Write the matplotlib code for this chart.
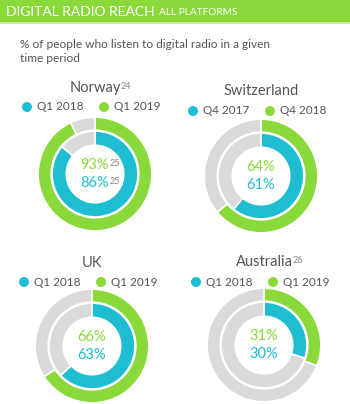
import matplotlib
matplotlib.use("Agg")
import matplotlib.pyplot as plt
from matplotlib.patches import Rectangle, Ellipse

W, H = 350, 404
DPI = 100

GREEN = "#8ad93a"
CYAN = "#1ebdd2"
GRAY = "#dadada"
TEXT = "#555555"
FONT = ["Lato", "DejaVu Sans"]

# data
countries = ["Norway", "Switzerland", "UK", "Australia"]
title_sups = ["24", "", "", "26"]
inner_labels = [["Q1 2018", "Q1 2019"], ["Q4 2017", "Q4 2018"],
                ["Q1 2018", "Q1 2019"], ["Q1 2018", "Q1 2019"]]
older_values = [86, 61, 63, 30]   # inner ring (cyan)
newer_values = [93, 64, 66, 31]   # outer ring (green)
value_sups = ["25", "", "", ""]

fig = plt.figure(figsize=(W / DPI, H / DPI), dpi=DPI)
fig.patch.set_facecolor("white")


def fx(x):
    return x / W


def fy(y):
    return 1 - y / H


# header
fig.patches.append(Rectangle((0, fy(22)), 1, 22 / H, transform=fig.transFigure,
                             facecolor=GREEN, edgecolor="none"))
fig.patches.append(Rectangle((0, fy(24)), 1, 2 / H, transform=fig.transFigure,
                             facecolor="#c9eea3", edgecolor="none"))
t = fig.text(fx(6), fy(11.5), "DIGITAL RADIO REACH", color="white", fontsize=10,
             family=FONT, va="center", ha="left")
fig.canvas.draw()
bb = t.get_window_extent()
fig.text(bb.x1 / W + fx(4), fy(12.5), "ALL PLATFORMS", color="white", fontsize=7.3,
         family=FONT, va="center", ha="left")

fig.text(fx(20), fy(45), "% of people who listen to digital radio in a given",
         color=TEXT, fontsize=8.6, family=FONT, va="center", ha="left")
fig.text(fx(20), fy(58), "time period", color=TEXT, fontsize=8.6, family=FONT,
         va="center", ha="left")

centers = [(95, 174), (261, 176), (92, 346), (264, 345)]
title_y = [88, 91, 263, 262]
legend_y = [107, 111, 282, 282]
R = 58


def sup_text(x, y, main, sup, color, size, supsize, ha="center"):
    tt = fig.text(fx(x), fy(y), main, color=color, fontsize=size, family=FONT,
                  ha=ha, va="center")
    if sup:
        fig.canvas.draw()
        b = tt.get_window_extent()
        fig.text(b.x1 / W + 0.001, b.y1 / H - 0.002, sup, color="#888888",
                 fontsize=supsize, family=FONT, ha="left", va="top")


for i, name in enumerate(countries):
    cx, cy = centers[i]
    # title
    sup_text(cx, title_y[i], name, title_sups[i], TEXT, 10.5, 6.5)
    # legend
    for j, (lab, col) in enumerate(zip(inner_labels[i], [CYAN, GREEN])):
        dx = cx - 68 + j * 77
        fig.patches.append(Ellipse((fx(dx), fy(legend_y[i])),
                           10 / W, 10 / H, transform=fig.transFigure,
                           facecolor=col, edgecolor="none"))
        fig.text(fx(dx + 10), fy(legend_y[i]), lab, color=TEXT, fontsize=8.5,
                 family=FONT, ha="left", va="center")
    # donut
    ax = fig.add_axes([fx(cx - R), fy(cy + R), 2 * R / W, 2 * R / H])
    ax.axis("off")
    nv = newer_values[i]
    ov = older_values[i]
    ax.pie([nv, 100 - nv], colors=[GREEN, GRAY], radius=1.0, startangle=90,
           counterclock=False,
           wedgeprops=dict(width=0.23, edgecolor="white", linewidth=1.2))
    ax.pie([ov, 100 - ov], colors=[CYAN, GRAY], radius=0.755, startangle=90,
           counterclock=False,
           wedgeprops=dict(width=0.25, edgecolor="white", linewidth=1.2))
    ax.set_aspect("equal")
    ax.set_xlim(-1.02, 1.02)
    ax.set_ylim(-1.02, 1.02)
    # center labels
    sup_text(cx, cy - 9, f"{nv}%", value_sups[i], GREEN, 10.5, 6.5)
    sup_text(cx, cy + 9, f"{ov}%", value_sups[i], CYAN, 10.5, 6.5)

fig.savefig("out.png", dpi=DPI, facecolor="white")
